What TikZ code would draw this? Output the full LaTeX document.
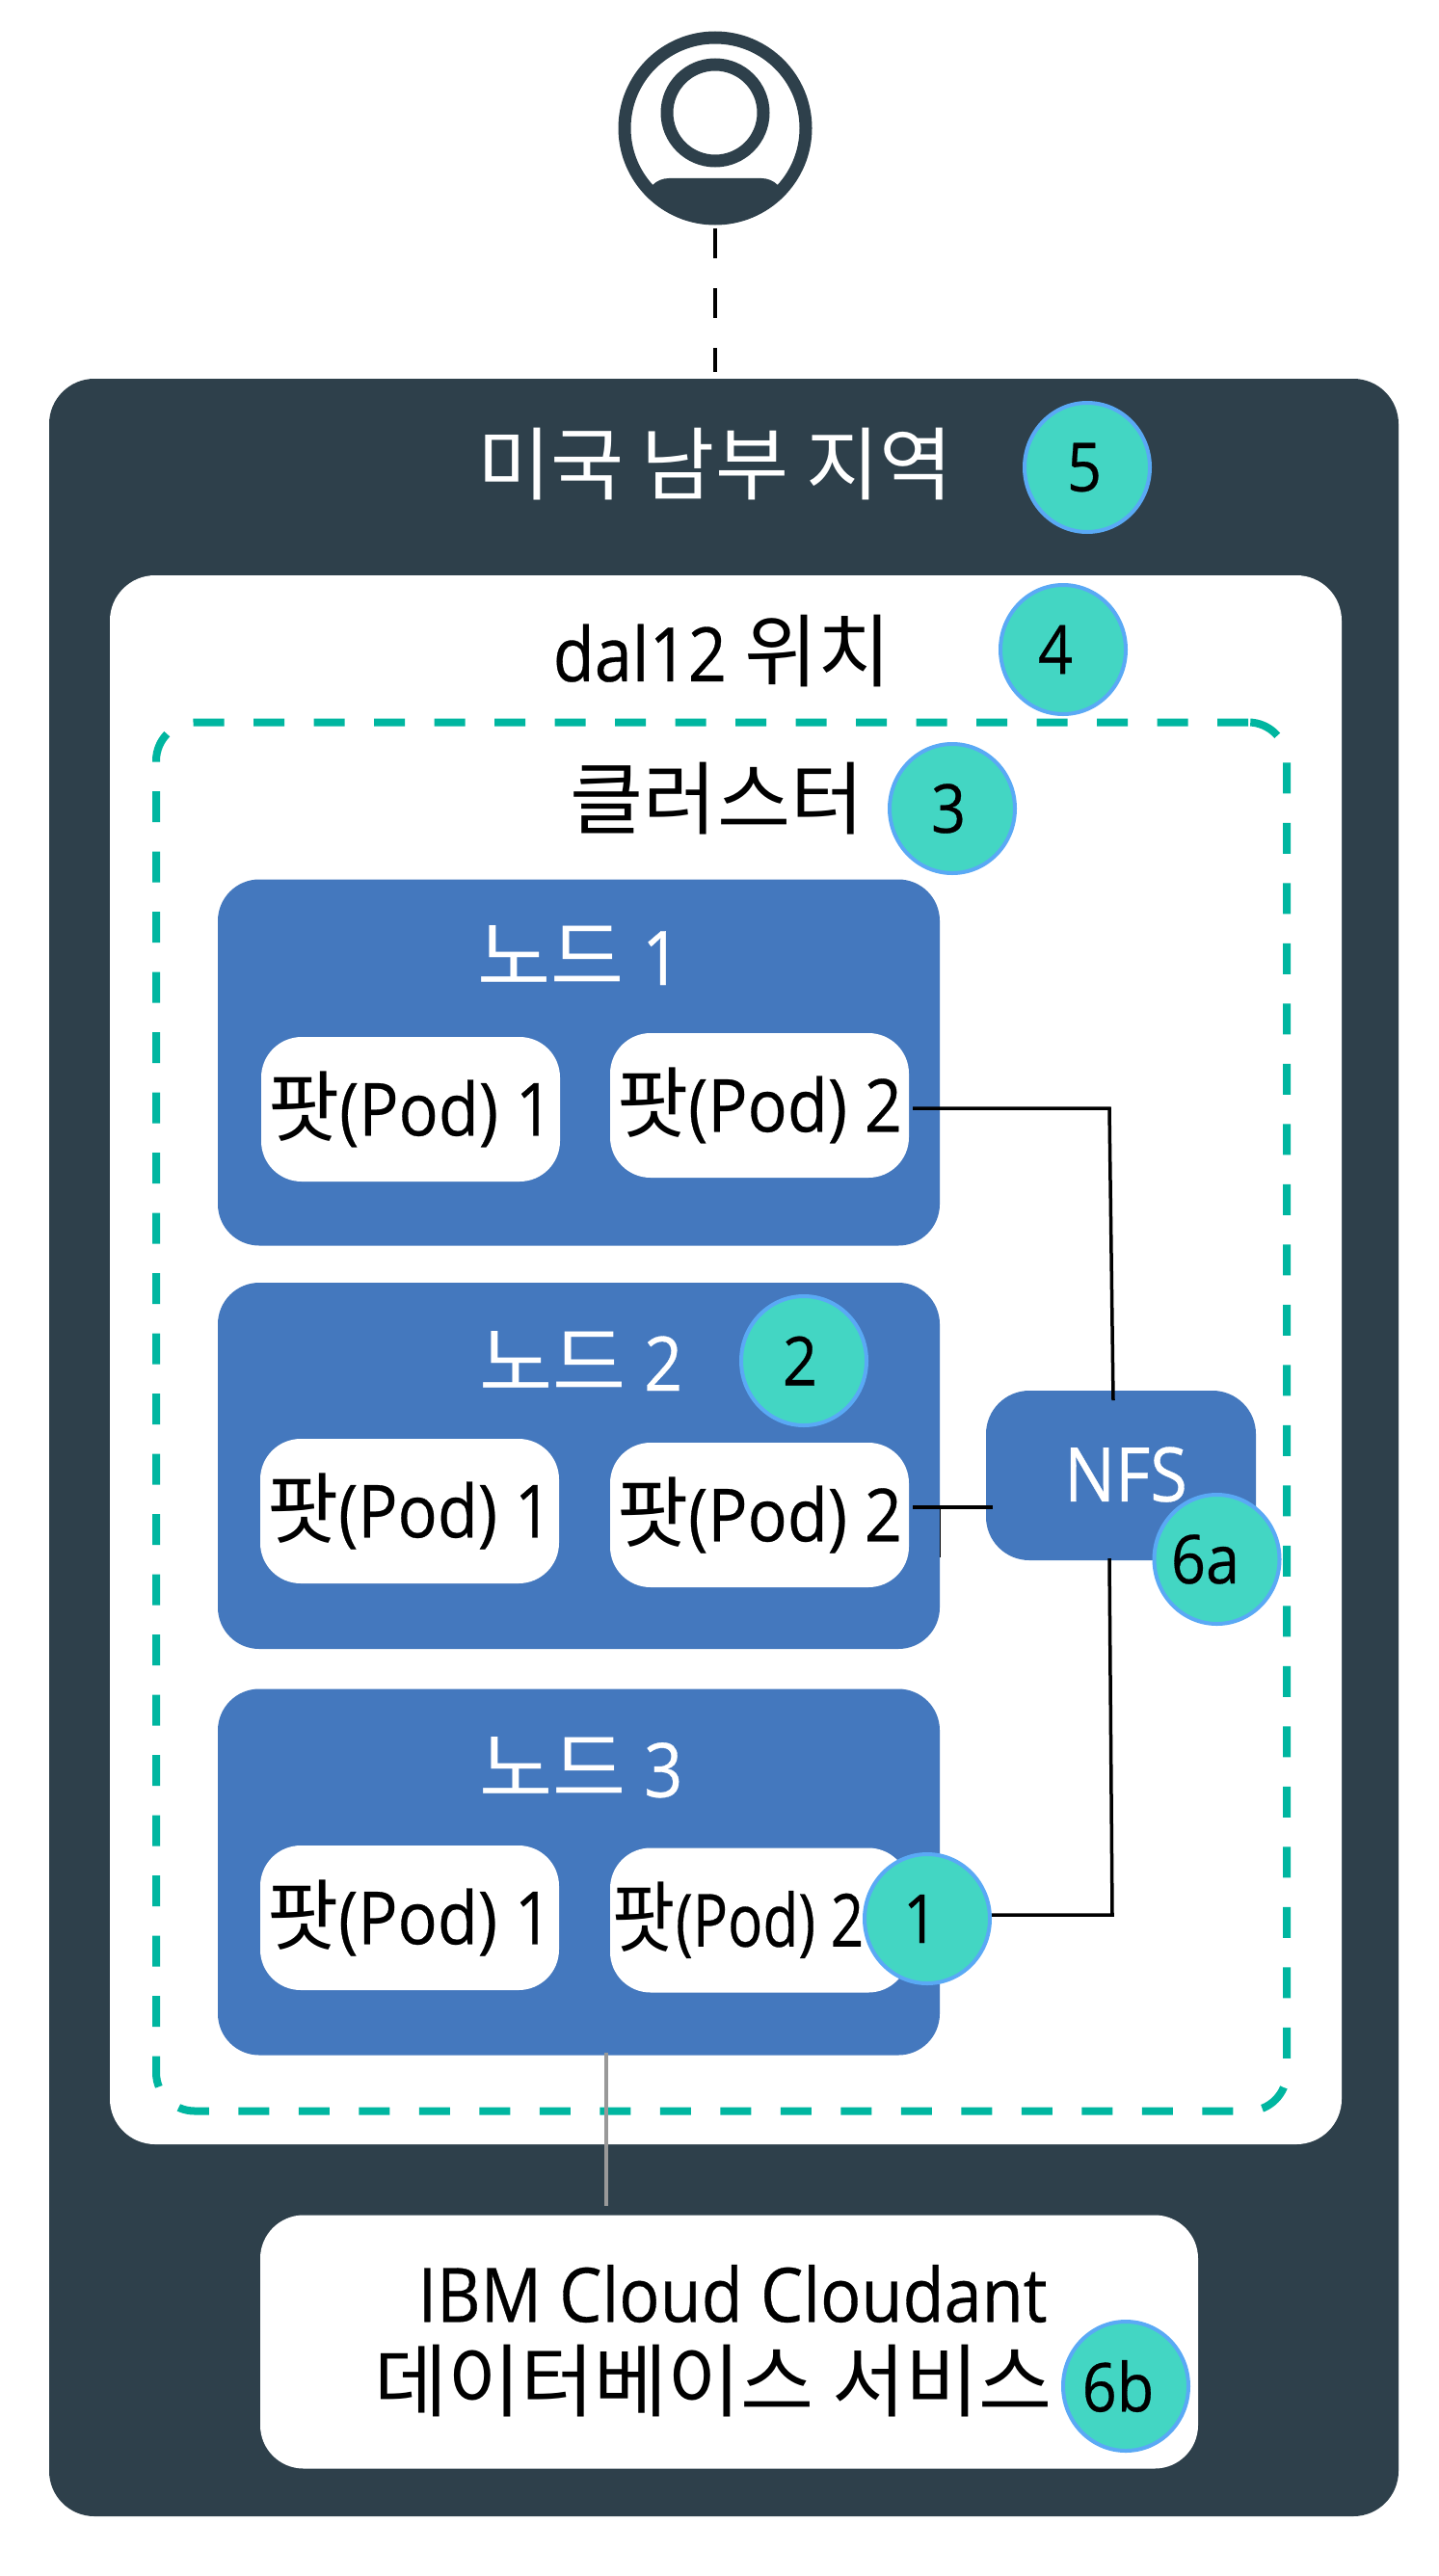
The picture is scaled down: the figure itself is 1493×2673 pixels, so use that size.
\documentclass[tikz,border=0pt]{standalone}
\usepackage{fontspec}
\setmainfont[FakeStretch=0.9,FakeBold=0.4]{Open Sans}
\newfontfamily\kr[Scale=1.06]{Noto Sans CJK KR}
\definecolor{regiondark}{HTML}{2E404B}
\definecolor{nodeblue}{HTML}{4478BE}
\definecolor{clustergreen}{HTML}{00B6A0}
\definecolor{badgefill}{HTML}{43D6C3}
\definecolor{badgeline}{HTML}{5AA9F5}
\newcommand{\badgetext}[2]{\hspace*{#1}\raisebox{-3pt}{#2}}
\tikzset{
    boxbase/.style={shape=rectangle,inner sep=0pt,outer sep=0pt},
    regionbox/.style={boxbase,fill=regiondark,rounded corners=47pt},
    zonebox/.style={boxbase,fill=white,rounded corners=47pt},
    clusterbox/.style={boxbase,draw=clustergreen,line width=8pt,dash pattern=on 32pt off 30.5pt,rounded corners=40pt},
    workerbox/.style={boxbase,fill=nodeblue,rounded corners=43pt,minimum width=749pt,minimum height=380pt},
    podbox/.style={boxbase,fill=white,rounded corners=42pt,minimum width=310pt,minimum height=150pt,font=\fontsize{76}{90}\selectfont},
    title/.style={inner sep=0pt,font=\fontsize{78}{94}\selectfont},
    badge/.style={shape=ellipse,draw=badgeline,fill=badgefill,line width=4pt,inner sep=0pt,minimum width=130pt,minimum height=134pt,font=\fontsize{70}{84}\selectfont},
    wire/.style={draw=black,line width=3.5pt},
}
\usetikzlibrary{shapes.geometric}
\begin{document}
\begin{tikzpicture}[x=1pt,y=-1pt]
            \useasboundingbox (0,0) rectangle (1493,2673);

            % user icon
            \node[shape=circle,draw=regiondark,line width=13pt,minimum size=188pt,inner sep=0pt] (U) at (742,133) {};
            \node[shape=circle,draw=regiondark,line width=13pt,minimum size=100pt,inner sep=0pt] (H) at (742,117) {};
            \begin{scope}
                \clip (U.center) circle (100pt);
                \fill[regiondark,rounded corners=24pt] (670,185) rectangle (814,270);
            \end{scope}

            \node[regionbox,minimum width=1400pt,minimum height=2218pt] (R) at (751,1502) {};
            \node[zonebox,minimum width=1278pt,minimum height=1628pt] (L) at (753,1411) {};
            \node[clusterbox,minimum width=1173pt,minimum height=1441pt] (C) at (748.5,1470) {};
            \node[zonebox,minimum width=973pt,minimum height=263pt,rounded corners=45pt] (D) at (756.5,2430) {};

            \node[workerbox] (N1) at (600.5,1102.5) {};
            \node[workerbox] (N2) at (600.5,1521) {};
            \node[workerbox] (N3) at (600.5,1942.5) {};
            \node[boxbase,fill=nodeblue,rounded corners=45pt,minimum width=280pt,minimum height=176pt] (S) at (1163,1531) {};

            \node[podbox] (P11) at (426,1151) {{\kr 팟}(Pod) 1};
            \node[podbox] (P12) at (788,1147) {{\kr 팟}(Pod) 2};
            \node[podbox] (P21) at (425,1568) {{\kr 팟}(Pod) 1};
            \node[podbox] (P22) at (788,1572) {{\kr 팟}(Pod) 2};
            \node[podbox] (P31) at (425,1990) {{\kr 팟}(Pod) 1};
            \node[podbox] (P32) at (788,1992.5) {\hspace*{-44pt}\scalebox{0.88}[1]{{\kr 팟}(Pod) 2}};

            \coordinate (A1) at (947,1150);
            \coordinate (A2) at (1151,1150);
            \coordinate (A3) at (1155,1453);
            \coordinate (B1) at (947,1564);
            \coordinate (B2) at (1030,1564);
            \coordinate (B3) at (975,1564);
            \coordinate (B4) at (975,1616);
            \coordinate (E1) at (1151,1617);
            \coordinate (E2) at (1154,1987);
            \coordinate (E3) at (1028,1987);
            \coordinate (G1) at (629,2130);
            \coordinate (G2) at (629,2289);

            \path[draw=black,line width=4pt,dash pattern=on 31pt off 31pt,shorten <=3.5pt,shorten >=7pt] (U.south) -- (U.south |- R.north);
            \path[wire] (A1) -- (A2) -- (A3);
            \path[wire] (B1) -- (B2);
            \path[draw=black,line width=1pt] (B3) -- (B4);
            \path[wire] (E1) -- (E2) -- (E3);
            \path[draw=black!40,line width=3.5pt] (G1) -- (G2);

            \node[title,text=white] (TR) at (742,482) {{\kr 미국 남부 지역}};
            \node[title] (TL) at (749,676) {dal12 {\kr 위치}};
            \node[title] (TC) at (744,829) {{\kr 클러스터}};
            \node[title,text=white] (T1) at (601,991) {{\kr 노드} 1};
            \node[title,text=white] (T2) at (603,1412) {{\kr 노드} 2};
            \node[title,text=white] (T3) at (603,1834) {{\kr 노드} 3};
            \node[title,text=white] (TS) at (1168,1530) {NFS};
            \node[title] (TD1) at (760,2380) {IBM Cloud Cloudant};
            \node[title] (TD2) at (740,2471) {{\kr 데이터베이스 서비스}};

            \node[badge] (B5) at (1128,485) {\badgetext{-6pt}{5}};
            \node[badge] (B4a) at (1103,674) {\badgetext{-16pt}{4}};
            \node[badge] (B3a) at (988,839) {\badgetext{-8pt}{3}};
            \node[badge] (B2a) at (834,1412) {\badgetext{-8pt}{2}};
            \node[badge] (B1a) at (962,1991) {\badgetext{-14pt}{1}};
            \node[badge] (B6a) at (1262.5,1618) {\badgetext{-24pt}{6a}};
            \node[badge] (B6b) at (1168,2476) {\badgetext{-16pt}{6b}};
        \end{tikzpicture}
\end{document}
